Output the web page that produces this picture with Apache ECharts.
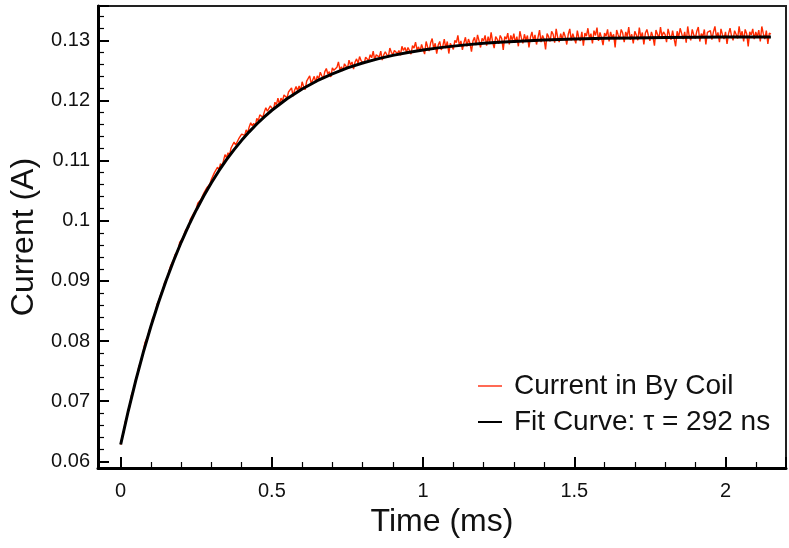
<!DOCTYPE html>
<html>
<head>
<meta charset="utf-8">
<script src="https://cdn.jsdelivr.net/npm/echarts@6/dist/echarts.min.js"></script>
<style>
  html, body { margin: 0; padding: 0; background: #fff; }
  #chart { width: 789px; height: 548px; }
</style>
</head>
<body>
<div id="chart"></div>
<script>
// ---- Data ----
const SERIES_DATA_NAME = 'Current in By Coil';
const SERIES_FIT_NAME = 'Fit Curve: τ = 292 ns';
const X_AXIS_NAME = 'Time (ms)';
const Y_AXIS_NAME = 'Current (A)';

// Measured current, sampled every SAMPLE_STEP_MS starting at t = 0 ms
const SAMPLE_STEP_MS = 0.005;
const measuredCurrent = [
  0.0628,0.0642,0.0648,0.0666,0.0672,0.0686,0.0691,0.0709,0.0716,0.0723,
  0.0738,0.0743,0.0758,0.0763,0.0770,0.0784,0.0797,0.0798,0.0809,0.0819,
  0.0823,0.0837,0.0842,0.0847,0.0861,0.0866,0.0868,0.0881,0.0886,0.0897,
  0.0902,0.0906,0.0917,0.0925,0.0925,0.0935,0.0944,0.0946,0.0950,0.0964,
  0.0967,0.0971,0.0974,0.0985,0.0988,0.0989,0.1002,0.1003,0.1011,0.1012,
  0.1020,0.1029,0.1028,0.1035,0.1035,0.1046,0.1047,0.1055,0.1054,0.1061,
  0.1069,0.1068,0.1080,0.1080,0.1089,0.1085,0.1095,0.1090,0.1100,0.1110,
  0.1105,0.1113,0.1109,0.1121,0.1121,0.1131,0.1126,0.1123,0.1136,0.1134,
  0.1144,0.1143,0.1142,0.1151,0.1146,0.1156,0.1163,0.1158,0.1162,0.1157,
  0.1170,0.1166,0.1176,0.1174,0.1172,0.1181,0.1188,0.1182,0.1182,0.1191,
  0.1189,0.1184,0.1197,0.1193,0.1204,0.1193,0.1204,0.1199,0.1209,0.1207,
  0.1204,0.1214,0.1211,0.1221,0.1207,0.1217,0.1223,0.1216,0.1224,0.1216,
  0.1231,0.1223,0.1218,0.1232,0.1231,0.1241,0.1228,0.1234,0.1240,0.1230,
  0.1241,0.1236,0.1247,0.1241,0.1236,0.1248,0.1253,0.1244,0.1248,0.1239,
  0.1254,0.1250,0.1247,0.1255,0.1264,0.1251,0.1256,0.1249,0.1261,0.1258,
  0.1253,0.1267,0.1259,0.1264,0.1252,0.1264,0.1269,0.1262,0.1273,0.1266,
  0.1265,0.1261,0.1272,0.1270,0.1266,0.1276,0.1271,0.1282,0.1267,0.1276,
  0.1275,0.1272,0.1282,0.1267,0.1276,0.1281,0.1276,0.1272,0.1287,0.1280,
  0.1276,0.1283,0.1286,0.1278,0.1283,0.1275,0.1290,0.1283,0.1288,0.1280,
  0.1288,0.1283,0.1277,0.1291,0.1287,0.1297,0.1284,0.1289,0.1282,0.1293,
  0.1290,0.1277,0.1298,0.1289,0.1282,0.1296,0.1303,0.1286,0.1295,0.1278,
  0.1292,0.1298,0.1284,0.1290,0.1302,0.1287,0.1298,0.1278,0.1295,0.1294,
  0.1285,0.1300,0.1296,0.1308,0.1291,0.1299,0.1284,0.1296,0.1305,0.1290,
  0.1302,0.1295,0.1281,0.1299,0.1305,0.1292,0.1309,0.1299,0.1288,0.1303,
  0.1299,0.1308,0.1291,0.1306,0.1296,0.1313,0.1297,0.1287,0.1306,0.1302,
  0.1294,0.1308,0.1303,0.1284,0.1306,0.1302,0.1312,0.1293,0.1308,0.1300,
  0.1311,0.1296,0.1306,0.1290,0.1315,0.1304,0.1295,0.1310,0.1300,0.1308,
  0.1288,0.1305,0.1314,0.1299,0.1309,0.1293,0.1305,0.1317,0.1297,0.1308,
  0.1302,0.1285,0.1311,0.1306,0.1298,0.1315,0.1310,0.1296,0.1319,0.1305,
  0.1297,0.1311,0.1301,0.1314,0.1306,0.1293,0.1310,0.1319,0.1300,0.1311,
  0.1308,0.1295,0.1316,0.1304,0.1299,0.1314,0.1291,0.1312,0.1307,0.1320,
  0.1303,0.1311,0.1295,0.1316,0.1308,0.1321,0.1299,0.1313,0.1304,0.1292,
  0.1312,0.1307,0.1318,0.1298,0.1314,0.1304,0.1310,0.1288,0.1317,0.1309,
  0.1302,0.1318,0.1312,0.1297,0.1314,0.1306,0.1322,0.1301,0.1310,0.1295,
  0.1315,0.1309,0.1300,0.1321,0.1304,0.1313,0.1293,0.1312,0.1318,0.1308,
  0.1299,0.1314,0.1306,0.1291,0.1317,0.1310,0.1303,0.1322,0.1306,0.1314,
  0.1310,0.1297,0.1319,0.1309,0.1301,0.1316,0.1313,0.1290,0.1315,0.1305,
  0.1320,0.1311,0.1302,0.1314,0.1296,0.1323,0.1307,0.1300,0.1318,0.1309,
  0.1303,0.1315,0.1322,0.1298,0.1311,0.1306,0.1318,0.1293,0.1313,0.1310,
  0.1316,0.1301,0.1314,0.1323,0.1305,0.1313,0.1297,0.1319,0.1309,0.1302,
  0.1314,0.1294,0.1311,0.1320,0.1307,0.1300,0.1316,0.1310,0.1303,0.1323,
  0.1306,0.1315,0.1298,0.1318,0.1311,0.1290,0.1314,0.1309,0.1319,0.1302,
  0.1314,0.1306,0.1317,0.1298,0.1323,0.1311,0.1302,0.1316,0.1294,0.1312,
  0.1310
];

// Fit curve (tau = 292 ns label)
const fitTime = [
  0, 0.025, 0.05, 0.075, 0.1, 0.125, 0.15, 0.175, 0.2, 0.225,
  0.25, 0.275, 0.3, 0.325, 0.35, 0.375, 0.4, 0.425, 0.45, 0.475,
  0.5, 0.55, 0.6, 0.65, 0.7, 0.75, 0.8, 0.85, 0.9, 0.95,
  1.0, 1.05, 1.1, 1.15, 1.2, 1.25, 1.3, 1.35, 1.4, 1.45,
  1.5, 1.6, 1.7, 1.8, 1.9, 2.0, 2.1, 2.15
];
const fitCurrent = [
  0.06280, 0.06837, 0.07346, 0.07816, 0.08246, 0.08641, 0.09004, 0.09336, 0.09642, 0.09922,
  0.10180, 0.10417, 0.10633, 0.10832, 0.11015, 0.11183, 0.11337, 0.11478, 0.11608, 0.11727,
  0.11837, 0.12029, 0.12191, 0.12328, 0.12443, 0.12541, 0.12622, 0.12691, 0.12749, 0.12798,
  0.12839, 0.12874, 0.12903, 0.12928, 0.12949, 0.12966, 0.12981, 0.12993, 0.13004, 0.13013,
  0.13020, 0.13032, 0.13040, 0.13046, 0.13050, 0.13053, 0.13055, 0.13056
];

// Axis ranges and tick steps
const xRange = [-0.075, 2.2];
const yRange = [0.0589, 0.1357];
const xLabelStep = 0.5;
const yLabelStep = 0.01;

// ---- Build series data ----
const measuredData = measuredCurrent.map((v, i) => [+(i * SAMPLE_STEP_MS).toFixed(3), v]);
const fitData = fitTime.map((t, i) => [t, fitCurrent[i]]);

const FONT = "'Liberation Sans', Arial, Helvetica, sans-serif";

function isMultiple(v, step) {
  const r = v / step;
  return Math.abs(r - Math.round(r)) < 1e-6;
}

const chart = echarts.init(document.getElementById('chart'), null, { renderer: 'canvas' });
chart.setOption({
  animation: false,
  backgroundColor: '#ffffff',
  grid: {
    left: 98, top: 6, right: -3, bottom: 80,
    show: true, borderColor: '#222', borderWidth: 2, backgroundColor: 'transparent'
  },
  legend: {
    orient: 'vertical',
    left: 478,
    top: 372,
    padding: 0,
    itemWidth: 24,
    itemHeight: 2,
    itemGap: 8,
    textStyle: { fontFamily: FONT, fontSize: 28, color: '#111', padding: [0, 0, 0, 7] },
    data: [
      { name: SERIES_DATA_NAME, icon: 'rect', itemStyle: { color: '#ff6a55' } },
      { name: SERIES_FIT_NAME, icon: 'rect', itemStyle: { color: '#000000' } }
    ]
  },
  xAxis: {
    type: 'value',
    min: xRange[0], max: xRange[1],
    splitNumber: 5,
    name: X_AXIS_NAME,
    nameLocation: 'middle',
    nameGap: 38,
    nameTextStyle: { fontFamily: FONT, fontSize: 32, color: '#111' },
    axisLine: { show: true, onZero: false, lineStyle: { color: '#000', width: 3 } },
    axisTick: { show: true, inside: true, length: 11, lineStyle: { color: '#000', width: 2 } },
    minorTick: { show: true, splitNumber: 5, length: 6, lineStyle: { color: '#000', width: 1.2 } },
    axisLabel: {
      fontFamily: FONT, fontSize: 20, color: '#111', margin: 13,
      formatter: v => isMultiple(v, xLabelStep) ? String(v) : ''
    },
    splitLine: { show: false },
    minorSplitLine: { show: false }
  },
  yAxis: {
    type: 'value',
    min: yRange[0], max: yRange[1],
    splitNumber: 8,
    name: Y_AXIS_NAME,
    nameLocation: 'middle',
    nameGap: 54,
    nameTextStyle: { fontFamily: FONT, fontSize: 32, color: '#111' },
    axisLine: { show: true, onZero: false, lineStyle: { color: '#000', width: 3 } },
    axisTick: { show: true, inside: true, length: 11, lineStyle: { color: '#000', width: 2 } },
    minorTick: { show: true, splitNumber: 5, length: 6, lineStyle: { color: '#000', width: 1.2 } },
    axisLabel: {
      fontFamily: FONT, fontSize: 20, color: '#111', margin: 8,
      formatter: v => isMultiple(v, yLabelStep) ? String(v) : ''
    },
    splitLine: { show: false },
    minorSplitLine: { show: false }
  },
  series: [
    {
      name: SERIES_DATA_NAME,
      type: 'line',
      data: measuredData,
      symbol: 'none',
      showSymbol: false,
      lineStyle: { color: '#ff2a00', width: 1.4 },
      itemStyle: { color: '#ff2a00' },
      z: 2
    },
    {
      name: SERIES_FIT_NAME,
      type: 'line',
      data: fitData,
      symbol: 'none',
      showSymbol: false,
      smooth: false,
      lineStyle: { color: '#000', width: 3 },
      itemStyle: { color: '#000' },
      z: 3
    }
  ]
});
</script>
</body>
</html>
